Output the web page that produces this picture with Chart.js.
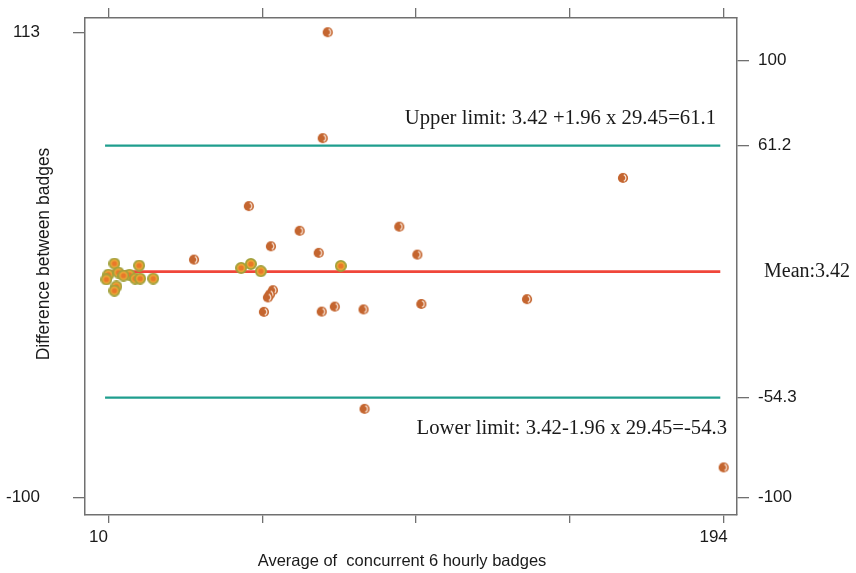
<!DOCTYPE html>
<html>
<head>
<meta charset="utf-8">
<script src="https://cdn.jsdelivr.net/npm/chart.js@4.4.1/dist/chart.umd.min.js"></script>
<style>
  html, body { margin: 0; padding: 0; background: #fff; }
  #wrap { width: 856px; height: 573px; }
</style>
</head>
<body>
<div id="wrap"><canvas id="graph"></canvas></div>
<script>
// scattered points (x = average of badges, y = difference)
const avgBadges = [75.6, 74.1, 163.9, 52, 67.2, 97, 58.6, 72.9, 102.4, 35.6,
    59.2, 58.3, 57.7, 56.5, 73.8, 77.7, 86.3, 103.6, 135.2, 86.6, 194];
const diffBadges = [113, 64.5, 46.3, 33.4, 22.1, 24, 15, 12, 11.2, 8.9,
    -5.1, -7, -8.4, -15, -14.9, -12.6, -13.9, -11.4, -9.2, -59.4, -86.2];

// overlapping points near the mean (drawn with the ring look)
const clusterAvg = [11.8, 10, 9.4, 13, 12.4, 11.8, 16.3, 18, 19.2, 19.5, 23.4, 14.5,
    49.7, 52.6, 55.6, 79.5];
const clusterDiff = [7.1, 2.05, -0.2, 3, -3.4, -5.3, 2, 0.2, 6.2, 0.2, 0.2, 1.6,
    5.1, 6.9, 3.6, 6];

// limit lines
const lineRange = [9, 193];
const upperLimit = 61.1;
const meanDiff = 3.42;
const lowerLimit = -54.3;

// tick labels
const xTicks = [10, 56, 102, 148, 194];
const xLabels = [10, 194];
const leftTicks = [113, -100];
const rightTicks = [100, 61.2, -54.3, -100];

const toPoints = (xs, ys) => xs.map((x, i) => ({ x: x, y: ys[i] }));
const flatLine = (v) => lineRange.map(x => ({ x: x, y: v }));

// marker images
function makeDot(fill, ring) {
    const c = document.createElement("canvas");
    c.width = 12; c.height = 12;
    const g = c.getContext("2d");
    g.beginPath();
    g.arc(6, 6, 5.1, 0, Math.PI * 2);
    g.fillStyle = fill;
    g.fill();
    if (ring) {
        g.lineWidth = 1.8;
        g.strokeStyle = ring;
        g.stroke();
        g.beginPath();
        g.arc(6, 6, 2.6, 0, Math.PI * 2);
        g.fillStyle = "#e9782a";
        g.fill();
    } else {
        g.beginPath();
        g.arc(5.6, 6, 3.3, -Math.PI / 2.6, Math.PI / 2.6);
        g.lineWidth = 1.2;
        g.strokeStyle = "#fbe9dc";
        g.stroke();
    }
    return c;
}
const orangeDot = makeDot("#c4652f", null);
const ringDot = makeDot("#eaa636", "#a2a03a");

const frame = "#707070";

const axisGrid = (len) => ({
    drawOnChartArea: false,
    drawTicks: true,
    tickLength: len,
    color: frame,
    lineWidth: 1.3
});
const axisBorder = { display: true, color: frame, width: 1.5 };
const tickFont = { family: "'Liberation Sans', Arial, sans-serif", size: 17 };

// keep the plot box where it is: no extra room for the end labels
const noPad = (scale) => {
    scale.paddingTop = 0;
    scale.paddingBottom = 0;
    scale.paddingLeft = 0;
    scale.paddingRight = 0;
};

// texts around the plot
const textPlugin = {
    id: "texts",
    afterDraw(chart) {
        const ctx = chart.ctx;
        ctx.save();
        ctx.fillStyle = "#1a1a1a";
        ctx.font = "20.7px 'Liberation Serif', 'Times New Roman', serif";
        ctx.textBaseline = "alphabetic";
        ctx.textAlign = "right";
        ctx.fillText("Upper limit: 3.42 +1.96 x 29.45=61.1", 716, 124);
        ctx.fillText("Lower limit: 3.42-1.96 x 29.45=-54.3", 727, 434);
        ctx.font = "20px 'Liberation Serif', 'Times New Roman', serif";
        ctx.textAlign = "left";
        ctx.fillText("Mean:3.42", 764, 277);

        ctx.font = "16.5px 'Liberation Sans', Arial, sans-serif";
        ctx.textAlign = "center";
        ctx.textBaseline = "middle";
        ctx.fillText("Average of  concurrent 6 hourly badges", 402, 561);
        ctx.translate(44, 254);
        ctx.rotate(-Math.PI / 2);
        ctx.font = "17.5px 'Liberation Sans', Arial, sans-serif";
        ctx.fillText("Difference between badges", 0, 0);
        ctx.restore();
    }
};

new Chart(document.getElementById("graph"), {
    type: "scatter",
    data: {
        datasets: [
            {
                label: "Points",
                data: toPoints(avgBadges, diffBadges),
                pointStyle: orangeDot,
                order: 1
            },
            {
                label: "Near mean",
                data: toPoints(clusterAvg, clusterDiff),
                pointStyle: ringDot,
                order: 2
            },
            {
                type: "line",
                label: "Mean",
                data: flatLine(meanDiff),
                borderColor: "#f0463a",
                borderWidth: 2.6,
                pointRadius: 0,
                order: 3
            },
            {
                type: "line",
                label: "Upper limit",
                data: flatLine(upperLimit),
                borderColor: "#1f9e8e",
                borderWidth: 2.2,
                pointRadius: 0,
                order: 4
            },
            {
                type: "line",
                label: "Lower limit",
                data: flatLine(lowerLimit),
                borderColor: "#1f9e8e",
                borderWidth: 2.2,
                pointRadius: 0,
                order: 5
            }
        ]
    },
    options: {
        responsive: true,
        maintainAspectRatio: false,
        animation: false,
        layout: { padding: 0 },
        plugins: {
            legend: { display: false },
            tooltip: { enabled: false }
        },
        scales: {
            x: {
                type: "linear",
                position: "bottom",
                min: 3,
                max: 198,
                afterBuildTicks: (scale) => { scale.ticks = xTicks.map(v => ({ value: v })); },
                afterFit: (scale) => { scale.height = 58; noPad(scale); },
                grid: axisGrid(8),
                border: axisBorder,
                ticks: {
                    color: "#1a1a1a",
                    font: tickFont,
                    padding: 4,
                    maxRotation: 0,
                    autoSkip: false,
                    labelOffset: -10,
                    callback: (v) => xLabels.includes(v) ? v : ""
                }
            },
            x2: {
                type: "linear",
                position: "top",
                min: 3,
                max: 198,
                afterBuildTicks: (scale) => { scale.ticks = xTicks.map(v => ({ value: v })); },
                afterFit: (scale) => { scale.height = 18; noPad(scale); },
                grid: axisGrid(10),
                border: axisBorder,
                ticks: { display: false }
            },
            y: {
                type: "linear",
                position: "left",
                min: -108,
                max: 119.5,
                afterBuildTicks: (scale) => { scale.ticks = leftTicks.map(v => ({ value: v })); },
                afterFit: (scale) => { scale.width = 85; noPad(scale); },
                grid: axisGrid(12),
                border: axisBorder,
                ticks: {
                    color: "#1a1a1a",
                    font: tickFont,
                    padding: 33,
                    autoSkip: false
                }
            },
            y2: {
                type: "linear",
                position: "right",
                min: -108,
                max: 119.5,
                afterBuildTicks: (scale) => { scale.ticks = rightTicks.map(v => ({ value: v })); },
                afterFit: (scale) => { scale.width = 119; noPad(scale); },
                grid: axisGrid(12),
                border: axisBorder,
                ticks: {
                    color: "#1a1a1a",
                    font: tickFont,
                    padding: 9,
                    autoSkip: false
                }
            }
        }
    },
    plugins: [textPlugin]
});
</script>
</body>
</html>
